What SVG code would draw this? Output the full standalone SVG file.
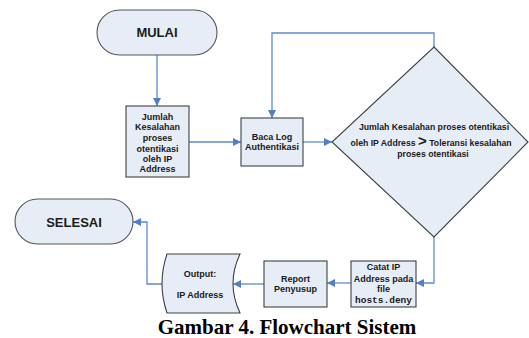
<svg xmlns="http://www.w3.org/2000/svg" width="529" height="338" viewBox="0 0 529 338">
<defs>
<style>
.shape{fill:#e7edf7;stroke:#404040;stroke-width:1.1}
.term{fill:#e7edf7;stroke:#555;stroke-width:1.1}
.con{fill:none;stroke:#5b8bd0;stroke-width:1.3}
.t{font-family:"Liberation Sans",Arial,sans-serif;font-weight:bold;font-size:9px;fill:#1a1a1a;text-anchor:middle}
.big{font-family:"Liberation Sans",Arial,sans-serif;font-weight:bold;font-size:13px;fill:#1a1a1a;text-anchor:middle}
.mono{font-family:"Liberation Mono","Courier New",monospace;font-weight:bold;font-size:9.5px}
.cap{font-family:"Liberation Serif","Times New Roman",serif;font-weight:bold;font-size:21px;fill:#000;text-anchor:middle}
</style>
<marker id="arr" viewBox="0 0 10 10" refX="10" refY="5" markerWidth="8" markerHeight="8" markerUnits="userSpaceOnUse" orient="auto">
<path d="M0,0 L10,5 L0,10 z" fill="#4f7fc8"/>
</marker>
</defs>
<rect width="529" height="338" fill="#fff"/>
<g id="connectors">
<path class="con" d="M157,55 V106" marker-end="url(#arr)"/>
<path class="con" d="M189,142 H241" marker-end="url(#arr)"/>
<path class="con" d="M303,142 H332" marker-end="url(#arr)"/>
<path class="con" d="M434,47 V33 H272 V118" marker-end="url(#arr)"/>
<path class="con" d="M434,237 V283 H416" marker-end="url(#arr)"/>
<path class="con" d="M351,283 H327" marker-end="url(#arr)"/>
<path class="con" d="M264,284 H233" marker-end="url(#arr)"/>
<path class="con" d="M162,284 H147 V222 H133" marker-end="url(#arr)"/>
</g>
<g id="mulai">
<rect class="term" x="97" y="10" width="120" height="45" rx="22.5"/>
<text class="big" x="157" y="37">MULAI</text>
</g>
<g id="jumlah">
<rect class="shape" x="126" y="106" width="63" height="71"/>
<text class="t" x="157.5" y="119.5">Jumlah</text>
<text class="t" x="157.5" y="130">Kesalahan</text>
<text class="t" x="157.5" y="141">proses</text>
<text class="t" x="157.5" y="151.5">otentikasi</text>
<text class="t" x="157.5" y="161.5">oleh IP</text>
<text class="t" x="157.5" y="172">Address</text>
</g>
<g id="baca">
<rect class="shape" x="241" y="118" width="62" height="48"/>
<text class="t" x="272" y="140">Baca Log</text>
<text class="t" x="272" y="150">Authentikasi</text>
</g>
<g id="decision">
<polygon class="shape" points="434,47 528,142 434,237 332,142"/>
<text class="t" x="434" y="129.5" style="font-size:8.7px">Jumlah Kesalahan proses otentikasi</text>
<text class="t" x="431" y="145.5" style="font-size:8.7px">oleh IP Address <tspan style="font-size:15px">&gt;</tspan> Toleransi kesalahan</text>
<text class="t" x="433" y="157" style="font-size:8.7px">proses otentikasi</text>
</g>
<g id="catat">
<rect class="shape" x="351" y="261" width="65" height="46"/>
<text class="t" x="383.5" y="269.5">Catat IP</text>
<text class="t" x="383.5" y="281.5">Address pada</text>
<text class="t" x="383.5" y="291.5">file</text>
<text class="t mono" x="383.5" y="303">hosts.deny</text>
</g>
<g id="report">
<rect class="shape" x="264" y="261" width="63" height="46"/>
<text class="t" x="295.5" y="281.5">Report</text>
<text class="t" x="295.5" y="291.5">Penyusup</text>
</g>
<g id="output">
<path class="shape" d="M167,254 H240 Q226,283.5 240,313 H167 Q157,283.5 167,254 Z"/>
<text class="t" x="200" y="276.5">Output:</text>
<text class="t" x="200" y="297.5">IP Address</text>
</g>
<g id="selesai">
<rect class="term" x="15" y="199" width="118" height="45" rx="22.5"/>
<text class="big" x="74" y="226.5">SELESAI</text>
</g>
<text class="cap" x="287" y="334">Gambar 4. Flowchart Sistem</text>
</svg>
